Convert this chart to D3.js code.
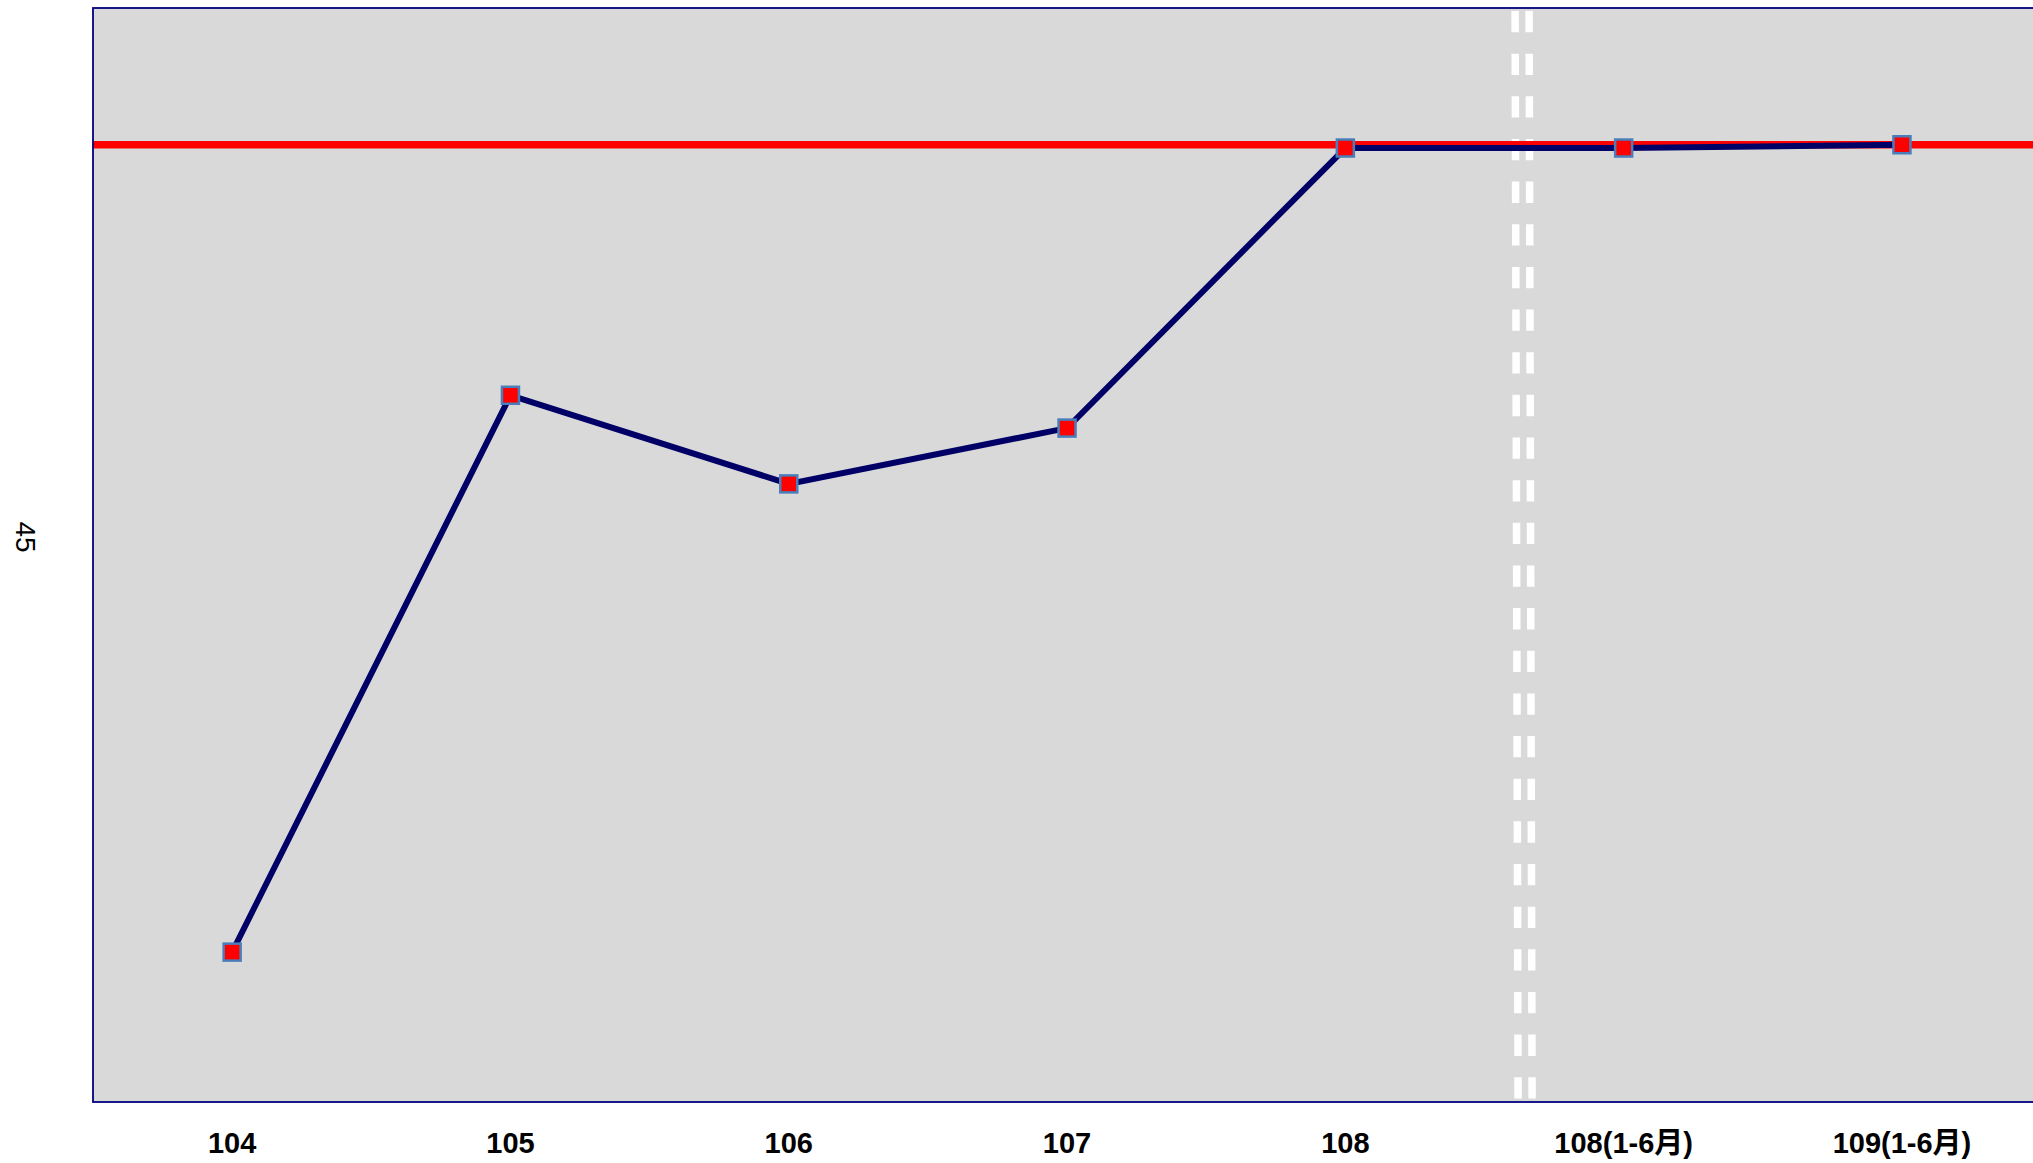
<!DOCTYPE html>
<html>
<head>
<meta charset="utf-8">
<script src="https://d3js.org/d3.v7.min.js"></script>
<style>
    html, body { margin: 0; padding: 0; background: #ffffff; overflow: hidden; }
    svg { display: block; }
</style>
</head>
<body>
<div id="chart"></div>
<script>
// Categories (x axis tick labels)
const categories = ['104', '105', '106', '107', '108', '108(1-6月)', '109(1-6月)'];

// Series values (y scale 0-100)
const seriesValues = [13.7, 64.6, 56.5, 61.6, 87.2, 87.2, 87.5];

// Target line value (red horizontal line)
const targetValue = 87.5;

// Y axis title
const yTitle = '45';

// Dimensions
const width = 2033;
const height = 1163;
const margin = { top: 8, left: 93 };
const step = 278.3;
const innerWidth = step * categories.length;   // runs past the right edge, clipped like the source
const innerHeight = 1094;

const svg = d3.select('#chart')
    .append('svg')
    .attr('width', width)
    .attr('height', height);

const g = svg.append('g')
    .attr('transform', `translate(${margin.left},${margin.top})`);

// Scales
const xScale = d3.scaleBand()
    .domain(categories)
    .range([0, innerWidth]);
const cx = d => xScale(d) + xScale.bandwidth() / 2;

const yScale = d3.scaleLinear()
    .domain([0, 100])
    .range([innerHeight, 0]);

// Plot background
g.append('rect')
    .attr('width', innerWidth)
    .attr('height', innerHeight)
    .attr('fill', '#d9d9d9');

// Separator: double white dashed line between yearly and half-year data
const sepX = cx('108') + step * 0.61;
[0, 14].forEach(off => {
    g.append('line')
        .attr('x1', sepX + off)
        .attr('x2', sepX + off + 3)
        .attr('y1', 3)
        .attr('y2', innerHeight - 2)
        .attr('stroke', '#ffffff')
        .attr('stroke-width', 7.5)
        .attr('stroke-dasharray', '21.3,21.35');
});

// Target line
g.append('line')
    .attr('x1', 0)
    .attr('x2', innerWidth)
    .attr('y1', yScale(targetValue))
    .attr('y2', yScale(targetValue))
    .attr('stroke', '#ff0000')
    .attr('stroke-width', 7.5);

// Series line
const data = categories.map((c, i) => ({ cat: c, value: seriesValues[i] }));

const line = d3.line()
    .x(d => cx(d.cat))
    .y(d => yScale(d.value));

g.append('path')
    .datum(data)
    .attr('d', line)
    .attr('fill', 'none')
    .attr('stroke', '#000066')
    .attr('stroke-width', 6)
    .attr('stroke-linejoin', 'miter');

// Markers
const markerSize = 17;
g.selectAll('.marker')
    .data(data)
    .enter()
    .append('rect')
    .attr('class', 'marker')
    .attr('x', d => cx(d.cat) - markerSize / 2)
    .attr('y', d => yScale(d.value) - markerSize / 2)
    .attr('width', markerSize)
    .attr('height', markerSize)
    .attr('fill', '#ff0000')
    .attr('stroke', '#4a7ebb')
    .attr('stroke-width', 2.5);

// Plot border
g.append('rect')
    .attr('width', innerWidth)
    .attr('height', innerHeight)
    .attr('fill', 'none')
    .attr('stroke', '#000080')
    .attr('stroke-width', 1.8);

// X axis
const xAxis = d3.axisBottom(xScale)
    .tickSize(0)
    .tickPadding(0);

const axisG = g.append('g')
    .attr('transform', `translate(0,${innerHeight})`)
    .call(xAxis);

axisG.select('.domain').remove();
axisG.selectAll('text')
    .attr('y', 41)
    .attr('dy', null)
    .attr('dominant-baseline', 'central')
    .attr('fill', '#000000')
    .attr('font-family', '"Liberation Sans", "Noto Sans CJK TC", sans-serif')
    .attr('font-weight', 'bold')
    .attr('font-size', '29px');

// Y axis title
svg.append('text')
    .attr('transform', `translate(16,${margin.top + 529}) rotate(90)`)
    .attr('text-anchor', 'middle')
    .attr('font-family', '"Liberation Sans", sans-serif')
    .attr('font-size', '28px')
    .attr('fill', '#000000')
    .text(yTitle);
</script>
</body>
</html>
